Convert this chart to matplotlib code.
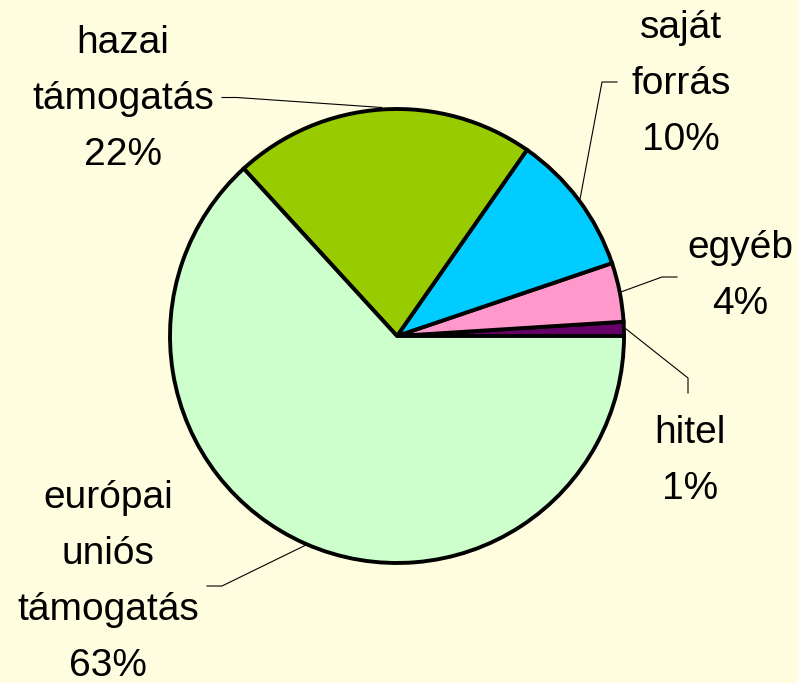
import numpy as np
import matplotlib.pyplot as plt

# data (share of funding sources, %)
names = ["hitel", "egyéb", "saját\nforrás", "hazai\ntámogatás", "európai\nuniós\ntámogatás"]
shares = [1.0, 4.2, 10.1, 21.5, 63.2]
colors = ["#660066", "#FF99CC", "#00CCFF", "#99CC00", "#CCFFCC"]

# label layout in pixels (x center, first baseline), leader line kink and end
label_pos = [(690, 443), (740, 258), (681, 38), (123, 53), (108, 508)]
leader_kink = [(688, 378), (662, 277), (602, 82), (237, 97.5), (222, 586)]
leader_end = [(688, 393), (677, 277), (617, 82), (222, 97.5), (207, 586)]

W, H = 798, 683
bg = "#FFFDE0"
cx, cy, r = 397, H - 336, 227
line_gap = 56.0

fig = plt.figure(figsize=(W / 100, H / 100), dpi=100, facecolor=bg)
ax = fig.add_axes([0, 0, 1, 1])
ax.set_facecolor(bg)

wedges, _ = ax.pie(shares, colors=colors, startangle=0, counterclock=True,
                   center=(cx, cy), radius=r,
                   wedgeprops=dict(edgecolor="black", linewidth=2.8))
ax.set_xlim(0, W)
ax.set_ylim(0, H)
ax.set_aspect("equal")
ax.axis("off")

for w, name, val, (tx, ty), (kx, ky), (ex, ey) in zip(
        wedges, names, shares, label_pos, leader_kink, leader_end):
    mid = np.deg2rad((w.theta1 + w.theta2) / 2)
    ax_x = cx + (r + 2) * np.cos(mid)
    ax_y = cy + (r + 2) * np.sin(mid)
    ax.plot([ax_x, kx, ex], [ax_y, H - ky, H - ey], color="black", lw=0.8)

    lines = name.split("\n") + [f"{val:.0f}%"]
    for i, line in enumerate(lines):
        ax.text(tx, H - (ty + i * line_gap), line, ha="center", va="baseline",
                fontsize=28, family="Liberation Sans", color="black")

fig.savefig("out.png", dpi=100, facecolor=bg)
